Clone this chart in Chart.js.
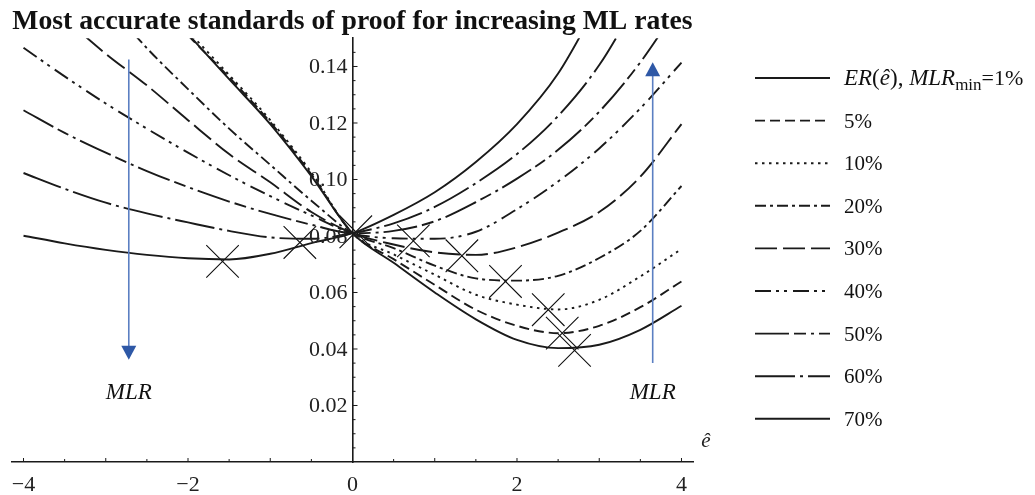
<!DOCTYPE html>
<html>
<head>
<meta charset="utf-8">
<title>Most accurate standards of proof</title>
<script src="https://cdn.jsdelivr.net/npm/chart.js@4.4.1/dist/chart.umd.min.js"></script>
<style>
  html, body { margin: 0; padding: 0; background: #fff; }
  canvas { display: block; }
</style>
</head>
<body>
<canvas id="chart" width="1035" height="495"></canvas>
<script>
// Error rate ER(ê) against the standard of proof ê, one curve per MLR level
const E_HAT = [-4, -3.5, -3, -2.5, -2, -1.5, -1, -0.5, 0, 0.5, 1, 1.5, 2, 2.5, 3, 3.5, 4];

const ER_1  = [null, null, null, null, 0.1515, 0.1355, 0.1196, 0.1012, 0.081, 0.0705, 0.0600, 0.0505, 0.0432, 0.0403, 0.0415, 0.0468, 0.0553];
const ER_5  = [null, null, null, null, 0.1510, 0.1362, 0.1203, 0.1018, 0.081, 0.0718, 0.0627, 0.0539, 0.0482, 0.0456, 0.0482, 0.0548, 0.0639];
const ER_10 = [null, null, null, null, 0.1525, 0.1370, 0.1210, 0.1025, 0.081, 0.0735, 0.0663, 0.0592, 0.0557, 0.0540, 0.0574, 0.0657, 0.0754];
const ER_20 = [null, null, 0.1630, 0.1465, 0.1320, 0.1180, 0.1052, 0.0925, 0.081, 0.0757, 0.0695, 0.0650, 0.0642, 0.0659, 0.0722, 0.0818, 0.0977];
const ER_30 = [null, 0.1570, 0.1445, 0.1333, 0.1210, 0.1090, 0.0990, 0.0885, 0.081, 0.0770, 0.0742, 0.0733, 0.0760, 0.0812, 0.0885, 0.1010, 0.1196];
const ER_40 = [0.1466, 0.1365, 0.1269, 0.1180, 0.1095, 0.1015, 0.0941, 0.0873, 0.081, 0.0792, 0.0790, 0.0815, 0.0895, 0.0993, 0.1110, 0.1252, 0.1414];
const ER_50 = [0.1245, 0.1165, 0.1095, 0.1030, 0.0973, 0.0922, 0.0878, 0.0840, 0.081, 0.0818, 0.0852, 0.0920, 0.1003, 0.1105, 0.1240, 0.1415, 0.1630];
const ER_60 = [0.1023, 0.0967, 0.0918, 0.0880, 0.0848, 0.0818, 0.0795, 0.0790, 0.081, 0.0845, 0.0903, 0.0987, 0.1090, 0.1225, 0.1405, 0.1650, null];
const ER_70 = [0.0801, 0.0774, 0.0751, 0.0733, 0.0721, 0.0717, 0.0737, 0.0775, 0.081, 0.0875, 0.0955, 0.1062, 0.1196, 0.1375, 0.1630, null, null];

const MLR_LABELS = ['1%', '5%', '10%', '20%', '30%', '40%', '50%', '60%', '70%'];

// most accurate standard (minimum of each curve)
const OPT_E  = [2.70, 2.55, 2.38, 1.86, 1.33, 0.74, 0.04, -0.64, -1.58];
const OPT_ER = [0.0395, 0.0456, 0.0539, 0.0639, 0.0730, 0.0783, 0.0815, 0.0777, 0.0710];

const X_TICKS = [-4, -2, 0, 2, 4];
const Y_TICKS = [0.02, 0.04, 0.06, 0.08, 0.10, 0.12, 0.14];

const SERIF = "'Liberation Serif', 'Times New Roman', serif";
const INK = '#1a1a1a';

const SERIES = [ER_1, ER_5, ER_10, ER_20, ER_30, ER_40, ER_50, ER_60, ER_70];
const DASHES = [
  [],
  [10, 5],
  [2.5, 4.5],
  [11, 4, 3, 4],
  [22, 6],
  [16, 5, 3, 5, 3, 6],
  [34, 5, 12, 5, 3, 5],
  [40, 5, 3, 5],
  []
];

const datasets = SERIES.map((vals, i) => ({
  label: MLR_LABELS[i],
  data: E_HAT.map((x, j) => ({ x: x, y: vals[j] })),
  borderColor: INK,
  borderWidth: 1.9,
  borderDash: DASHES[i],
  pointRadius: 0,
  fill: false,
  cubicInterpolationMode: 'monotone'
}));

datasets.push({
  label: 'optimum',
  type: 'scatter',
  data: OPT_E.map((x, i) => ({ x: x, y: OPT_ER[i] })),
  pointStyle: 'crossRot',
  pointRadius: 23,
  borderColor: '#111',
  borderWidth: 1.1,
  backgroundColor: 'transparent',
  showLine: false
});

// arrows: [x, yFrom, yTo]
const ARROWS = [[-2.72, 0.1425, 0.0362], [3.65, 0.0350, 0.1415]];
const ARROW_TEXT_Y = 0.0244;

// Small ticks, y labels, arrows, axis symbol and legend
const decor = {
  id: 'decor',
  afterDraw(chart) {
    const ctx = chart.ctx;
    const xs = chart.scales.x;
    const ys = chart.scales.y;
    const x0 = xs.getPixelForValue(0);
    const y0 = ys.getPixelForValue(0);

    ctx.save();
    ctx.strokeStyle = INK;
    ctx.lineWidth = 1;
    for (let v = -4; v <= 4.001; v += 0.5) {
      const px = xs.getPixelForValue(v);
      const len = Number.isInteger(v) ? 4 : 3;
      ctx.beginPath();
      ctx.moveTo(px, y0);
      ctx.lineTo(px, y0 - len);
      ctx.stroke();
    }
    for (let k = 1; k <= 29; k++) {
      const py = ys.getPixelForValue(k * 0.005);
      const len = k % 4 === 0 ? 5 : 3;
      ctx.beginPath();
      ctx.moveTo(x0, py);
      ctx.lineTo(x0 + len, py);
      ctx.stroke();
    }

    ctx.fillStyle = '#222';
    ctx.font = '22px ' + SERIF;
    ctx.textAlign = 'right';
    ctx.textBaseline = 'middle';
    Y_TICKS.forEach(v => {
      ctx.fillText(v.toFixed(2), x0 - 5, ys.getPixelForValue(v) + 1);
    });

    // MLR arrows
    ARROWS.forEach(a => {
      const px = xs.getPixelForValue(a[0]);
      const pFrom = ys.getPixelForValue(a[1]);
      const pTo = ys.getPixelForValue(a[2]);
      const dir = pTo > pFrom ? 1 : -1;
      ctx.strokeStyle = '#5b7fc2';
      ctx.lineWidth = 1.6;
      ctx.beginPath();
      ctx.moveTo(px, pFrom);
      ctx.lineTo(px, pTo - dir * 12);
      ctx.stroke();
      ctx.fillStyle = '#2e58a6';
      ctx.beginPath();
      ctx.moveTo(px, pTo);
      ctx.lineTo(px - 7.5, pTo - dir * 14);
      ctx.lineTo(px + 7.5, pTo - dir * 14);
      ctx.closePath();
      ctx.fill();

      ctx.fillStyle = '#111';
      ctx.font = 'italic 23px ' + SERIF;
      ctx.textAlign = 'center';
      ctx.textBaseline = 'middle';
      ctx.fillText('MLR', px, ys.getPixelForValue(ARROW_TEXT_Y));
    });

    // axis symbol
    ctx.fillStyle = '#222';
    ctx.font = 'italic 21px ' + SERIF;
    ctx.textAlign = 'center';
    ctx.textBaseline = 'alphabetic';
    ctx.fillText('ê', chart.chartArea.right + 13, y0 - 15);

    // legend
    const lx0 = 755, lx1 = 830, tx = 844, top = 78, gap = 42.6;
    chart.data.datasets.slice(0, SERIES.length).forEach((ds, i) => {
      const cy = top + i * gap;
      ctx.strokeStyle = INK;
      ctx.lineWidth = 1.9;
      ctx.setLineDash(ds.borderDash);
      ctx.beginPath();
      ctx.moveTo(lx0, cy);
      ctx.lineTo(lx1, cy);
      ctx.stroke();
      ctx.setLineDash([]);

      ctx.fillStyle = '#111';
      ctx.textAlign = 'left';
      ctx.textBaseline = 'alphabetic';
      if (i === 0) {
        const parts = [
          ['ER', 'italic 23px', 0],
          ['(', '23px', 0],
          ['ê', 'italic 23px', 0],
          ['), ', '23px', 0],
          ['MLR', 'italic 23px', 0],
          ['min', '17px', 5],
          ['=1%', '22px', 0]
        ];
        let x = tx;
        parts.forEach(p => {
          ctx.font = p[1] + ' ' + SERIF;
          ctx.fillText(p[0], x, cy + 7 + p[2]);
          x += ctx.measureText(p[0]).width;
        });
      } else {
        ctx.font = '21px ' + SERIF;
        ctx.fillText(ds.label, tx, cy + 7);
      }
    });
    ctx.restore();
  }
};

new Chart(document.getElementById('chart').getContext('2d'), {
  type: 'line',
  data: { datasets: datasets },
  options: {
    responsive: false,
    animation: false,
    events: [],
    layout: { autoPadding: false, padding: { left: 12, right: 342, top: 0, bottom: 0 } },
    plugins: {
      legend: { display: false },
      tooltip: { enabled: false },
      title: {
        display: true,
        text: 'Most accurate standards of proof for increasing ML rates',
        font: { family: SERIF, size: 27.7, weight: 'bold' },
        color: '#111',
        padding: { top: 5, bottom: 0 }
      }
    },
    scales: {
      x: {
        type: 'linear',
        min: -4.14,
        max: 4.14,
        position: 'bottom',
        grid: { display: false, drawTicks: false },
        border: { color: INK, width: 1.6 },
        ticks: {
          font: { family: SERIF, size: 22 },
          color: '#222',
          padding: 10,
          maxRotation: 0,
          callback: v => (v < 0 ? '\u2212' + Math.abs(v) : String(v))
        },
        afterBuildTicks: axis => { axis.ticks = X_TICKS.map(v => ({ value: v })); },
        afterFit: axis => {
          axis.paddingLeft = 0;
          axis.paddingRight = 0;
          axis.height = 33;
        }
      },
      y: {
        type: 'linear',
        min: 0,
        max: 0.15,
        position: { x: 0 },
        grid: { display: false, drawTicks: false },
        border: { color: INK, width: 1.6 },
        ticks: { display: false },
        afterBuildTicks: axis => { axis.ticks = Y_TICKS.map(v => ({ value: v })); }
      }
    }
  },
  plugins: [decor]
});
</script>
</body>
</html>
